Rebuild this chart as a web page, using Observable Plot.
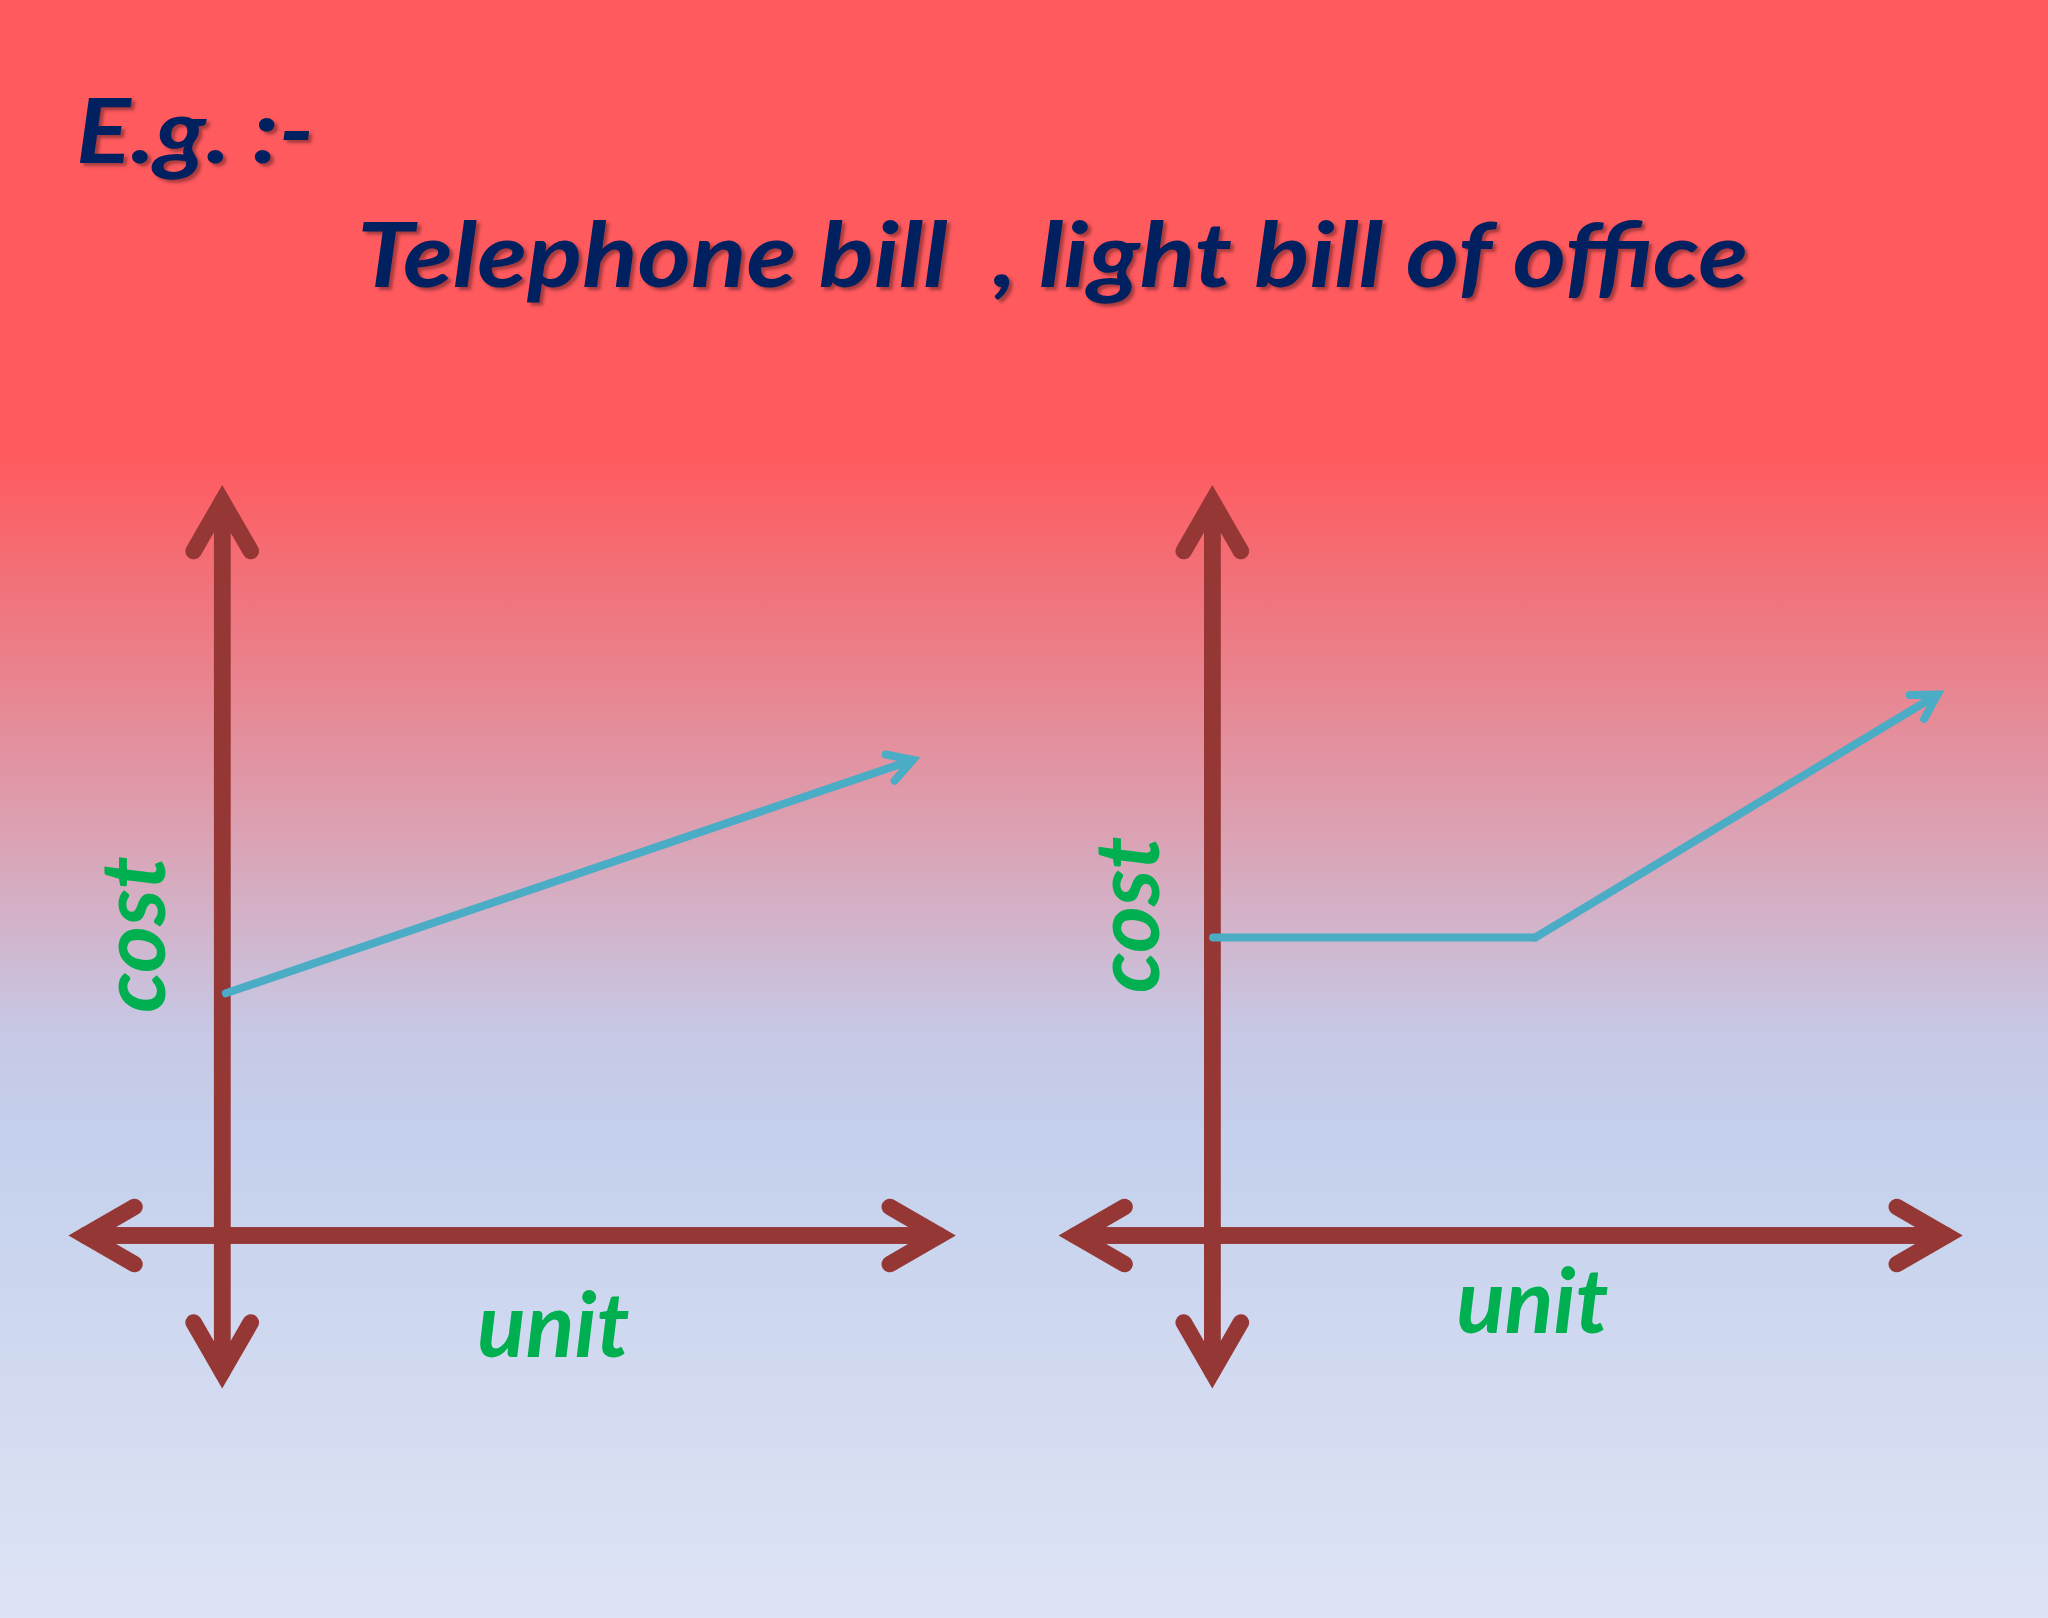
<!DOCTYPE html>
<html><head><meta charset="utf-8">
<script src="https://cdn.jsdelivr.net/npm/d3@7"></script>
<script src="https://cdn.jsdelivr.net/npm/@observablehq/plot@0.6"></script>
<style>
html,body{margin:0;padding:0;}
#slide{position:relative;width:2048px;height:1618px;overflow:hidden;
 background:linear-gradient(to bottom,#FF5A5E 0px,#FF5A5E 455px,#EE7881 620px,#DCA0B1 825px,#C7C8E5 1030px,#C4D0EC 1135px,#DEE4F5 1618px);}
#head{position:relative;height:400px;}
.ttl{position:absolute;white-space:pre;font-family:Lato,"Open Sans",sans-serif;font-weight:bold;font-style:italic;color:#002060;font-size:90px;line-height:90px;transform-origin:0 0;text-shadow:3px 3px 3px rgba(0,0,0,0.35);}
#eg{left:76px;top:83px;}
#sub{left:357px;top:207px;}
#chart svg{display:block;}
#chart g[aria-label="axis label"]{filter:drop-shadow(3px 3px 2px rgba(0,0,0,0.35));}
#chart g[aria-label="cost curve"]{filter:drop-shadow(2px 3px 2px rgba(90,20,30,0.35));}
</style></head><body>
<div id="slide">
  <div id="head">
    <div class="ttl" id="eg">E.g. :-</div>
    <div class="ttl" id="sub">Telephone bill  , light bill of office</div>
  </div>
  <div id="chart"></div>
</div>
<script>
// ---- data ----
const panels = ["Telephone bill", "light bill of office"];
// axis extents, per panel
const unitMin = [-1.87, -1.87];
const unitMax = [9.77, 10.0];
const costMin = [-1.86, -1.86];
const costMax = [10, 10];
// cost curves
const telephoneUnits = [0.05, 9.41];
const telephoneCost = [3.30, 6.48];
const lightUnits = [0.01, 4.40, 9.88];
const lightCost = [4.06, 4.06, 7.37];
// axis titles
const axisTitles = ["cost", "unit"];
const costTitleUnit = [-0.786, -0.733];
const costTitleCost = [4.10, 4.37];
const unitTitleUnit = [4.51, 4.36];
const unitTitleCost = [-1.65, -1.335];

// ---- tables ----
const axes = panels.flatMap((p, i) => [
  {panel: p, x1: unitMax[i], y1: 0, x2: unitMin[i], y2: 0},
  {panel: p, x1: unitMin[i], y1: 0, x2: unitMax[i], y2: 0},
  {panel: p, x1: 0, y1: costMin[i], x2: 0, y2: costMax[i]},
  {panel: p, x1: 0, y1: costMax[i], x2: 0, y2: costMin[i]}
]);
// flat (fixed) segment of the light bill, no head
const curveSegments = [
  {panel: panels[1], x1: lightUnits[0], y1: lightCost[0], x2: lightUnits[1], y2: lightCost[1]}
];
// rising segments, with head
const curveArrows = [
  {panel: panels[0], x1: telephoneUnits[0], y1: telephoneCost[0], x2: telephoneUnits[1], y2: telephoneCost[1]},
  {panel: panels[1], x1: lightUnits[1], y1: lightCost[1], x2: lightUnits[2], y2: lightCost[2]}
];
const titles = panels.flatMap((p, i) => [
  {panel: p, text: axisTitles[0], unit: costTitleUnit[i], cost: costTitleCost[i], rotate: -90},
  {panel: p, text: axisTitles[1], unit: unitTitleUnit[i], cost: unitTitleCost[i], rotate: 0}
]);

const AXIS = "#953735", CURVE = "#4BACC6", LABEL = "#00B050";

const plot = Plot.plot({
  width: 2048,
  height: 1218,
  marginLeft: 74.9,
  marginRight: 102.2,
  marginTop: 101,
  marginBottom: 236.2,
  style: {background: "transparent", overflow: "visible"},
  fx: {domain: panels, paddingInner: 0.1104, paddingOuter: 0, round: false, axis: null},
  x: {domain: [-2, 10], axis: null},
  y: {domain: [-2, 10], axis: null},
  marks: [
    Plot.arrow(axes, {fx: "panel", x1: "x1", y1: "y1", x2: "x2", y2: "y2",
      stroke: AXIS, strokeWidth: 16.5, headAngle: 60, headLength: 5.2,
      strokeLinecap: "round", strokeLinejoin: "miter", strokeMiterlimit: 10}),
    Plot.arrow(curveSegments, {fx: "panel", x1: "x1", y1: "y1", x2: "x2", y2: "y2",
      stroke: CURVE, strokeWidth: 8, headLength: 0,
      strokeLinecap: "round", ariaLabel: "cost curve"}),
    Plot.arrow(curveArrows, {fx: "panel", x1: "x1", y1: "y1", x2: "x2", y2: "y2",
      stroke: CURVE, strokeWidth: 8, headAngle: 60, headLength: 5.2,
      strokeLinecap: "round", strokeLinejoin: "miter", strokeMiterlimit: 10, ariaLabel: "cost curve"}),
    Plot.text(titles, {fx: "panel", x: "unit", y: "cost", text: "text", rotate: "rotate",
      textAnchor: "middle", lineAnchor: "bottom", fill: LABEL, fontSize: 90,
      fontFamily: "Lato, 'Open Sans', sans-serif", fontWeight: "bold", fontStyle: "italic",
      ariaLabel: "axis label"})
  ]
});
document.getElementById("chart").appendChild(plot);

// fit label lengths to the reference (Calibri-like widths)
const labelLen = {cost: 153, unit: 150};
d3.select(plot).selectAll('g[aria-label="axis label"] text').each(function () {
  const t = this.textContent.trim();
  if (labelLen[t]) {
    this.setAttribute("textLength", labelLen[t]);
    this.setAttribute("lengthAdjust", "spacingAndGlyphs");
  }
});

function fitTitles() {
  const targets = {eg: 238, sub: 1391};
  for (const id in targets) {
    const el = document.getElementById(id);
    el.style.transform = "none";
    const w = el.getBoundingClientRect().width;
    el.style.transform = `scaleX(${targets[id] / w})`;
  }
}
fitTitles();
if (document.fonts && document.fonts.ready) document.fonts.ready.then(fitTitles);
</script>
</body></html>
